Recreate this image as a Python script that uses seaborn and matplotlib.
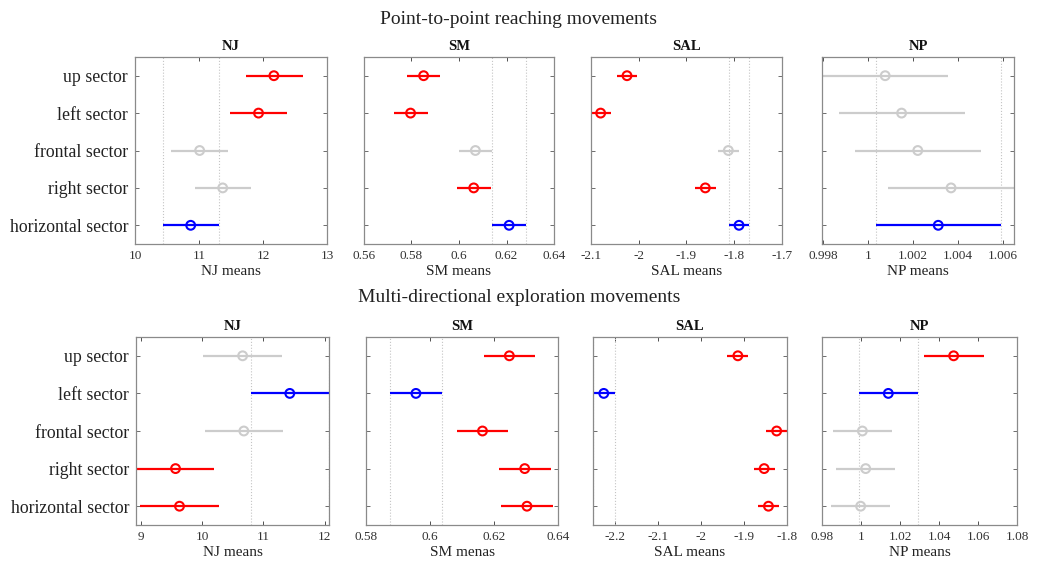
import numpy as np
import pandas as pd
import matplotlib
matplotlib.use("Agg")
import matplotlib.pyplot as plt
import seaborn as sns

sns.set_theme(style="white")
plt.rcParams["font.family"] = ["Liberation Serif", "DejaVu Serif"]

sectors = ["up sector", "left sector", "frontal sector", "right sector", "horizontal sector"]
row_titles = ["Point-to-point reaching movements", "Multi-directional exploration movements"]
panel_titles = ["NJ", "SM", "SAL", "NP"]

# ---------- Point-to-point reaching movements ----------
p2p_nj_mean = [12.17, 11.93, 11.01, 11.37, 10.87]
p2p_nj_lo = [11.73, 11.49, 10.57, 10.93, 10.43]
p2p_nj_hi = [12.62, 12.38, 11.46, 11.81, 11.31]
p2p_nj_status = ["sig", "sig", "ns", "ns", "ref"]

p2p_sm_mean = [0.5851, 0.5796, 0.6069, 0.6062, 0.6211]
p2p_sm_lo = [0.5782, 0.5726, 0.5999, 0.5992, 0.6139]
p2p_sm_hi = [0.5921, 0.5868, 0.6139, 0.6133, 0.6281]
p2p_sm_status = ["sig", "sig", "ns", "sig", "ref"]

p2p_sal_mean = [-2.0246, -2.0798, -1.8124, -1.8606, -1.7900]
p2p_sal_lo = [-2.0455, -2.1010, -1.8340, -1.8815, -1.8110]
p2p_sal_hi = [-2.0030, -2.0580, -1.7910, -1.8390, -1.7690]
p2p_sal_status = ["sig", "sig", "ns", "sig", "ref"]

p2p_np_mean = [1.00077, 1.00150, 1.00222, 1.00370, 1.00313]
p2p_np_lo = [0.99796, 0.99870, 0.99942, 1.00090, 1.00034]
p2p_np_hi = [1.00356, 1.00430, 1.00504, 1.00650, 1.00593]
p2p_np_status = ["ns", "ns", "ns", "ns", "ref"]

# ---------- Multi-directional exploration movements ----------
mde_nj_mean = [10.66, 11.43, 10.68, 9.565, 9.63]
mde_nj_lo = [10.02, 10.79, 10.04, 8.93, 8.99]
mde_nj_hi = [11.30, 12.07, 11.32, 10.20, 10.27]
mde_nj_status = ["ns", "ref", "ns", "sig", "sig"]

mde_sm_mean = [0.6248, 0.5956, 0.6164, 0.6296, 0.6303]
mde_sm_lo = [0.6168, 0.5875, 0.6083, 0.6216, 0.6223]
mde_sm_hi = [0.6328, 0.6036, 0.6245, 0.6377, 0.6383]
mde_sm_status = ["sig", "ref", "sig", "sig", "sig"]

mde_sal_mean = [-1.914, -2.225, -1.824, -1.853, -1.843]
mde_sal_lo = [-1.939, -2.250, -1.849, -1.877, -1.867]
mde_sal_hi = [-1.8895, -2.200, -1.800, -1.828, -1.818]
mde_sal_status = ["sig", "ref", "sig", "sig", "sig"]

mde_np_mean = [1.0475, 1.0140, 1.0007, 1.0024, 0.9998]
mde_np_lo = [1.0325, 0.9988, 0.9855, 0.9872, 0.9848]
mde_np_hi = [1.0629, 1.0292, 1.0159, 1.0176, 1.0150]
mde_np_status = ["sig", "ref", "ns", "ns", "ns"]

# axis settings
p2p_xlims = [(10, 13), (0.56, 0.64), (-2.1, -1.7), (0.99796, 1.00650)]
p2p_xticks = [[10, 11, 12, 13], [0.56, 0.58, 0.60, 0.62, 0.64],
              [-2.1, -2.0, -1.9, -1.8, -1.7], [0.998, 1.0, 1.002, 1.004, 1.006]]
p2p_xticklabels = [["10", "11", "12", "13"], ["0.56", "0.58", "0.6", "0.62", "0.64"],
                   ["-2.1", "-2", "-1.9", "-1.8", "-1.7"], ["0.998", "1", "1.002", "1.004", "1.006"]]
p2p_xlabels = ["NJ means", "SM means", "SAL means", "NP means"]

mde_xlims = [(8.92, 12.07), (0.58, 0.64), (-2.25, -1.8), (0.98, 1.08)]
mde_xticks = [[9, 10, 11, 12], [0.58, 0.60, 0.62, 0.64],
              [-2.2, -2.1, -2.0, -1.9, -1.8], [0.98, 1.0, 1.02, 1.04, 1.06, 1.08]]
mde_xticklabels = [["9", "10", "11", "12"], ["0.58", "0.6", "0.62", "0.64"],
                   ["-2.2", "-2.1", "-2", "-1.9", "-1.8"], ["0.98", "1", "1.02", "1.04", "1.06", "1.08"]]
mde_xlabels = ["NJ means", "SM menas", "SAL means", "NP means"]

palette = {"sig": "#ff0000", "ns": "#cccccc", "ref": "#0000ff"}

rows = [
    [(p2p_nj_mean, p2p_nj_lo, p2p_nj_hi, p2p_nj_status),
     (p2p_sm_mean, p2p_sm_lo, p2p_sm_hi, p2p_sm_status),
     (p2p_sal_mean, p2p_sal_lo, p2p_sal_hi, p2p_sal_status),
     (p2p_np_mean, p2p_np_lo, p2p_np_hi, p2p_np_status)],
    [(mde_nj_mean, mde_nj_lo, mde_nj_hi, mde_nj_status),
     (mde_sm_mean, mde_sm_lo, mde_sm_hi, mde_sm_status),
     (mde_sal_mean, mde_sal_lo, mde_sal_hi, mde_sal_status),
     (mde_np_mean, mde_np_lo, mde_np_hi, mde_np_status)],
]
row_xlims = [p2p_xlims, mde_xlims]
row_xticks = [p2p_xticks, mde_xticks]
row_xticklabels = [p2p_xticklabels, mde_xticklabels]
row_xlabels = [p2p_xlabels, mde_xlabels]

W, H = 1038, 563
fig = plt.figure(figsize=(W / 100, H / 100), dpi=100)

# axes boxes in pixels: (left, top, right, bottom)
boxes = [
    [(135, 57, 327, 244), (364, 57, 554, 244), (591, 57, 782, 244), (822, 57, 1014, 244)],
    [(136, 337, 329, 525), (366, 337, 558, 525), (593, 337, 787, 525), (822, 337, 1017, 525)],
]

frame_col = "#8a8a8a"
ypos = np.arange(len(sectors))

for r in range(2):
    for c in range(4):
        l, t, rr, b = boxes[r][c]
        ax = fig.add_axes([l / W, 1 - b / H, (rr - l) / W, (b - t) / H])
        mean, lo, hi, status = rows[r][c]
        df = pd.DataFrame({"sector": sectors, "pos": ypos, "mean": mean,
                           "lo": lo, "hi": hi, "status": status})
        # reference interval lines
        ref = df[df["status"] == "ref"].iloc[0]
        for xv in (ref["lo"], ref["hi"]):
            ax.axvline(xv, color="#c4c4c4", lw=0.8, ls=":", zorder=1)
        # comparison intervals
        for _, row in df.iterrows():
            ax.hlines(row["pos"], row["lo"], row["hi"], color=palette[row["status"]],
                      lw=1.6, zorder=2)
        sns.scatterplot(data=df, x="mean", y="pos", hue="status", palette=palette,
                        s=40, marker="o", legend=False, ax=ax, zorder=3, linewidth=1.5)
        coll = ax.collections[-1]
        coll.set_edgecolors(coll.get_facecolors())
        coll.set_facecolors("none")

        ax.set_xlim(*row_xlims[r][c])
        ax.set_ylim(len(sectors) - 0.5, -0.5)
        ax.set_xticks(row_xticks[r][c])
        ax.set_xticklabels(row_xticklabels[r][c])
        ax.set_yticks(ypos)
        if c == 0:
            ax.set_yticklabels(sectors, fontsize=12.8, color="#222222")
        else:
            ax.set_yticklabels([])
        ax.set_ylabel("")
        ax.set_xlabel(row_xlabels[r][c], fontsize=11, color="#222222", labelpad=2.5)
        ax.set_title(panel_titles[c], fontsize=10.5, fontweight="bold", pad=5, color="#111111")
        ax.tick_params(axis="x", labelsize=9.5, colors="#333333", direction="in",
                       length=3, width=0.6, top=True, bottom=True, pad=4)
        ax.tick_params(axis="y", direction="in", length=3, width=0.6, left=True,
                       right=True, colors="#555555", pad=5)
        for lab in ax.get_yticklabels():
            lab.set_color("#222222")
        for lab in ax.get_xticklabels():
            lab.set_color("#333333")
        for sp in ax.spines.values():
            sp.set_color(frame_col)
            sp.set_linewidth(0.9)
        ax.grid(False)

fig.text(0.5, 1 - 20 / H, row_titles[0], ha="center", va="center", fontsize=14, color="#222222")
fig.text(0.5, 1 - 298 / H, row_titles[1], ha="center", va="center", fontsize=14, color="#222222")

fig.savefig("out.png", dpi=100)
